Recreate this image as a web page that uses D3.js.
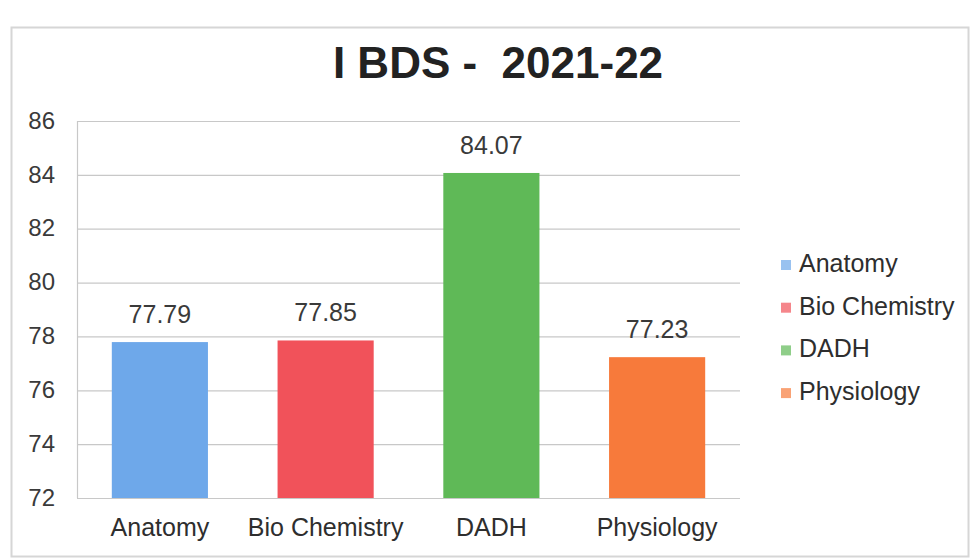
<!DOCTYPE html>
<html>
<head>
<meta charset="utf-8">
<script src="https://cdn.jsdelivr.net/npm/d3@7"></script>
<style>
  html, body { margin: 0; padding: 0; background: #fff; }
  svg { display: block; font-family: "Liberation Sans", Arial, sans-serif; }
</style>
</head>
<body>
<svg id="chart" width="973" height="559"></svg>
<script>
// Subject-wise results for I BDS, 2021-22
const subjects = ["Anatomy", "Bio Chemistry", "DADH", "Physiology"];
const scores = [77.79, 77.85, 84.07, 77.23];
const barColors = ["#6ea8ea", "#f1525a", "#5fb957", "#f77a3b"];
const yTicks = [72, 74, 76, 78, 80, 82, 84, 86];
const title = "I BDS -  2021-22";

const svg = d3.select("#chart");
const W = 973, H = 559;
const plot = { left: 77, right: 740, top: 121, bottom: 498 };

// outer frame
svg.append("rect")
  .attr("x", 11.5).attr("y", 27.5)
  .attr("width", W - 16).attr("height", H - 30)
  .attr("fill", "#fff").attr("stroke", "#d6d6d6").attr("stroke-width", 2);

// title (keep the double space)
svg.append("text")
  .attr("x", 498).attr("y", 78)
  .attr("text-anchor", "middle")
  .attr("font-size", 44).attr("font-weight", "bold")
  .attr("fill", "#222")
  .style("white-space", "pre")
  .text(title);

const x = d3.scaleBand()
  .domain(subjects)
  .range([plot.left, plot.right])
  .paddingInner(0.42).paddingOuter(0.21);

const y = d3.scaleLinear()
  .domain([72, 86])
  .range([plot.bottom, plot.top]);

// gridlines
svg.append("g")
  .selectAll("line")
  .data(yTicks)
  .join("line")
  .attr("x1", plot.left).attr("x2", plot.right)
  .attr("y1", d => y(d) + 0.5).attr("y2", d => y(d) + 0.5)
  .attr("stroke", "#c8c8c8").attr("stroke-width", 1.2);

// left axis line
svg.append("line")
  .attr("x1", plot.left + 0.5).attr("x2", plot.left + 0.5)
  .attr("y1", plot.top).attr("y2", plot.bottom)
  .attr("stroke", "#c8c8c8").attr("stroke-width", 1.2);

// y axis labels
const yAxis = d3.axisLeft(y).tickValues(yTicks).tickSize(0).tickPadding(0);
const gy = svg.append("g")
  .attr("transform", `translate(${plot.left - 22},0)`)
  .call(yAxis);
gy.select(".domain").remove();
gy.selectAll("text")
  .attr("font-size", 24).attr("fill", "#3a3a3a")
  .attr("font-family", "Liberation Sans, Arial, sans-serif")
  .attr("dy", "0.3em");

// bars
svg.append("g")
  .selectAll("rect")
  .data(subjects)
  .join("rect")
  .attr("x", d => x(d))
  .attr("y", (d, i) => y(scores[i]))
  .attr("width", x.bandwidth())
  .attr("height", (d, i) => y(72) - y(scores[i]))
  .attr("fill", (d, i) => barColors[i]);

// value labels
svg.append("g")
  .selectAll("text")
  .data(subjects)
  .join("text")
  .attr("x", d => x(d) + x.bandwidth() / 2)
  .attr("y", (d, i) => y(scores[i]) - 19)
  .attr("text-anchor", "middle")
  .attr("font-size", 25).attr("fill", "#3a3a3a")
  .text((d, i) => scores[i].toFixed(2));

// x axis labels
const xAxis = d3.axisBottom(x).tickSize(0).tickPadding(0);
const gx = svg.append("g")
  .attr("transform", `translate(0,${plot.bottom + 20})`)
  .call(xAxis);
gx.select(".domain").remove();
gx.selectAll("text")
  .attr("font-size", 25).attr("fill", "#2e2e2e")
  .attr("font-family", "Liberation Sans, Arial, sans-serif");

// legend
const legend = svg.append("g").attr("transform", "translate(781,272)");
const items = legend.selectAll("g")
  .data(subjects)
  .join("g")
  .attr("transform", (d, i) => `translate(0,${i * 42.7})`);
items.append("rect")
  .attr("x", 0).attr("y", -12)
  .attr("width", 10).attr("height", 10)
  .attr("fill", (d, i) => barColors[i])
  .attr("opacity", 0.7);
items.append("text")
  .attr("x", 18).attr("y", 0)
  .attr("font-size", 25).attr("fill", "#2e2e2e")
  .text(d => d);
</script>
</body>
</html>
